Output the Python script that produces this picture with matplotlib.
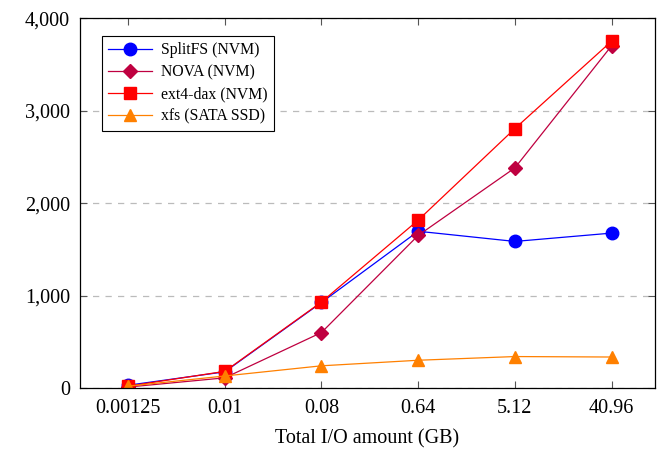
import matplotlib
matplotlib.use("Agg")
from matplotlib import pyplot as plt
from matplotlib.ticker import FuncFormatter

plt.rcParams["font.family"] = ["Liberation Serif", "DejaVu Serif"]
plt.rcParams["mathtext.fontset"] = "stix"

sizes = ["0.00125", "0.01", "0.08", "0.64", "5.12", "40.96"]
splitfs = [30, 175, 925, 1695, 1585, 1675]
nova = [10, 110, 600, 1650, 2380, 3700]
ext4_dax = [20, 180, 930, 1815, 2805, 3750]
xfs = [20, 130, 240, 300, 340, 335]

series = [
    ("SplitFS (NVM)", splitfs, "#0000ff", "o", 9),
    ("NOVA (NVM)", nova, "#bf0040", "D", 7),
    ("ext4-dax (NVM)", ext4_dax, "#ff0000", "s", 8),
    ("xfs (SATA SSD)", xfs, "#ff8000", "^", 9),
]

fig = plt.figure(figsize=(6.65, 4.53), dpi=100)
ax = fig.add_axes([0.12, 0.1435, 0.865, 0.8165])

xs = list(range(len(sizes)))
for label, vals, color, marker, ms in series:
    ax.plot(xs, vals, color=color, marker=marker, markersize=ms,
            linewidth=0.9, label=label)

ax.set_xlim(-0.5, 5.45)
ax.set_ylim(0, 4000)
ax.set_xticks(xs)
ax.set_xticklabels(sizes)
ax.set_yticks([0, 1000, 2000, 3000, 4000])
ax.yaxis.set_major_formatter(FuncFormatter(lambda v, p: f"{int(v):,}"))
ax.tick_params(direction="in", top=True, right=True, labelsize=14.5,
               length=5, color="#555555")
ax.tick_params(axis="x", pad=8)
ax.tick_params(axis="y", pad=7)
ax.yaxis.grid(True, linestyle=(0, (5, 5)), color="#bbbbbb", linewidth=0.9)
ax.set_axisbelow(True)
for s in ax.spines.values():
    s.set_linewidth(0.9)

ax.set_xlabel("Total I/O amount (GB)", fontsize=14.5, labelpad=8)

leg = ax.legend(loc="upper left", bbox_to_anchor=(0.03, 0.965), fontsize=11.3,
                fancybox=False, edgecolor="black", framealpha=1,
                handlelength=2.8, borderaxespad=0.3, labelspacing=0.4,
                handletextpad=0.6)
leg.get_frame().set_linewidth(0.8)

plt.savefig("out.png", dpi=100)
plt.close()
